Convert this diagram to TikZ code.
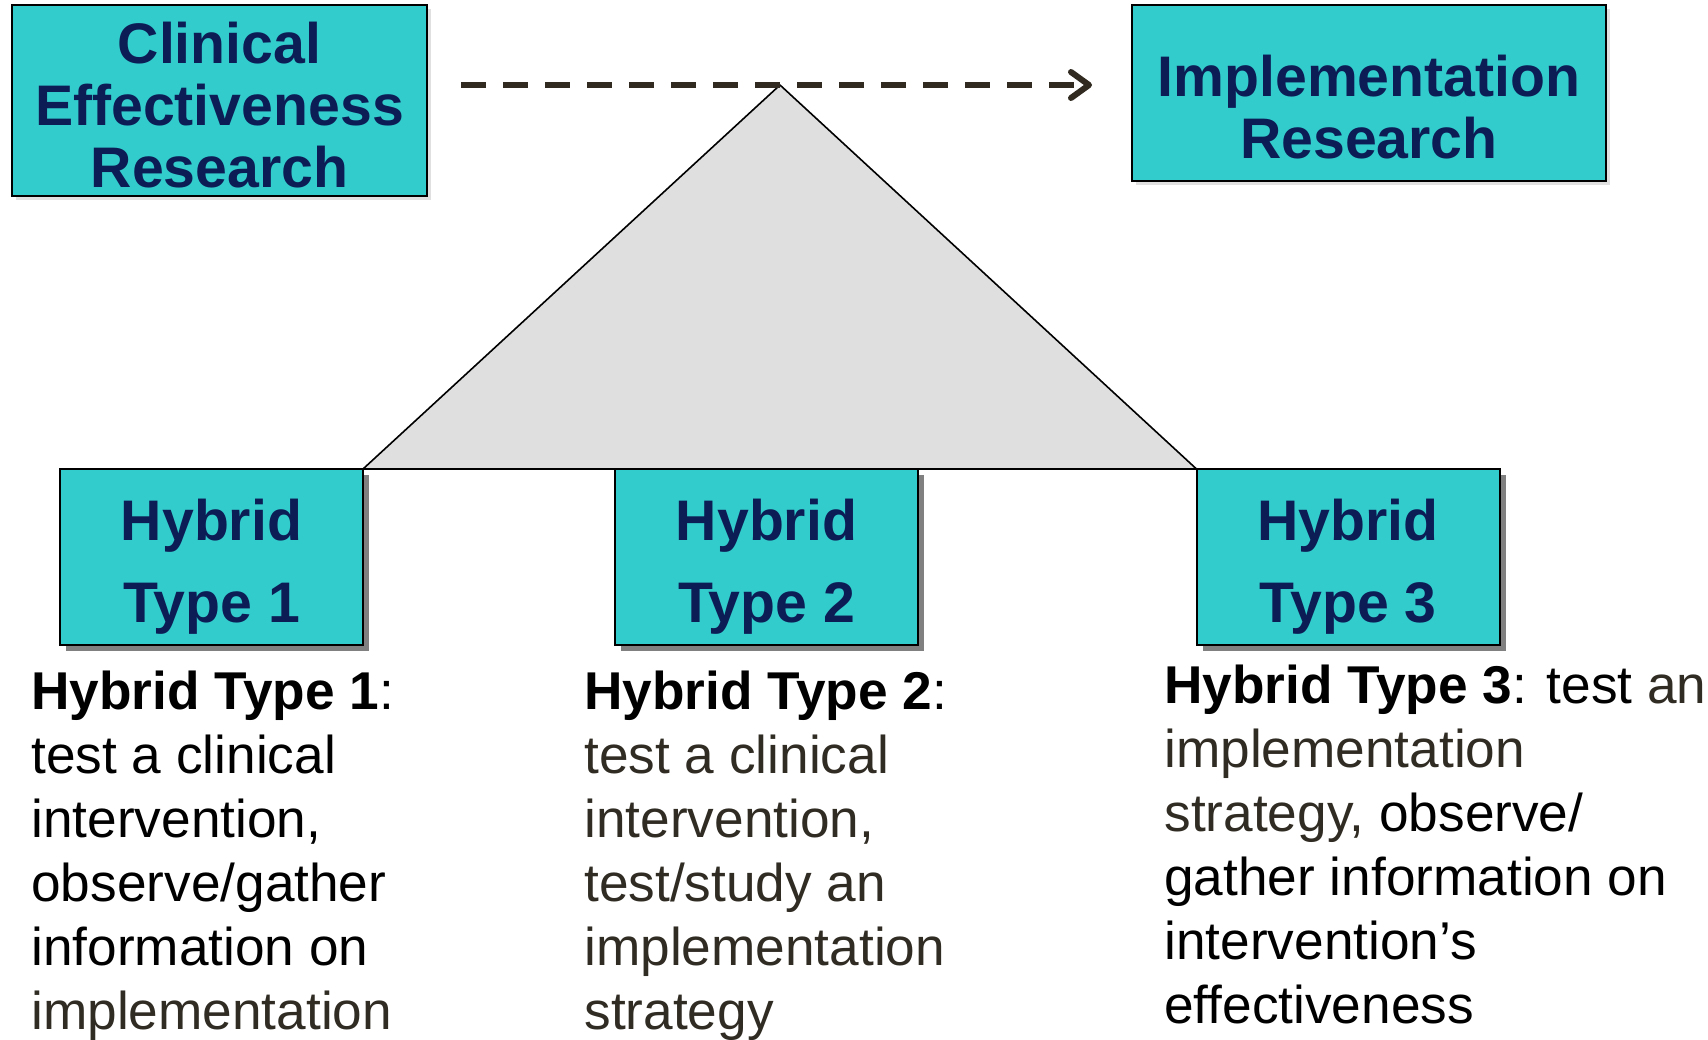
\documentclass[tikz,border=0pt]{standalone}
\usepackage{fontspec}
\setmainfont{Liberation Sans}
\usepackage{xcolor}
\usetikzlibrary{arrows.meta, shadows, positioning, calc}
\definecolor{boxfill}{HTML}{33CCCC}
\definecolor{boxtext}{HTML}{0C1D56}
\definecolor{arrowdark}{HTML}{302A20}
\definecolor{textgray}{HTML}{302C24}
\definecolor{trifill}{HTML}{DFDFDF}
\tikzset{
    boxbase/.style={
        rectangle,
        draw=black,
        line width=1pt,
        fill=boxfill,
        text=boxtext,
        align=center,
        inner sep=0pt,
        outer sep=0pt,
        text depth=0pt,
    },
    topbox/.style={
        boxbase,
        font=\fontsize{28.6}{31}\selectfont\bfseries,
        drop shadow={shadow xshift=2pt, shadow yshift=-2pt, fill=black!12, opacity=1},
    },
    hybox/.style={
        boxbase,
        font=\fontsize{28.6}{41}\selectfont\bfseries,
        minimum width=151.5pt,
        minimum height=88pt,
        text height=65pt,
        drop shadow={shadow xshift=3pt, shadow yshift=-3pt, fill=black!50, opacity=1},
    },
    desc/.style={
        anchor=north west,
        inner sep=0pt,
        align=left,
        font=\fontsize{26.6}{32}\selectfont,
    },
}

\begin{document}
\begin{tikzpicture}[x=0.5pt, y=-0.5pt]
    \useasboundingbox (0,0) rectangle (1708,1039);

    \node[topbox, minimum width=207.5pt, minimum height=95.5pt, text height=87pt] (cer) at (219.5,100.5) {Clinical\\Effectiveness\\Research};
    \node[topbox, minimum width=237pt, minimum height=88pt, text height=65pt] (ir) at (1369,93) {Implementation\\Research};

    \node[hybox] (h1) at (211.5,557) {Hybrid\\Type 1};
    \node[hybox] (h2) at (766.5,557) {Hybrid\\Type 2};
    \node[hybox] (h3) at (1348,557) {Hybrid\\Type 3};

    % the triangle between the hybrid types
    \coordinate (apex) at (780,85);
    \draw[line width=0.8pt, fill=trifill, line join=round] (h1.north east) -- (apex) -- (h3.north west) -- cycle;

    \coordinate (arrs) at (461,85);
    \coordinate (arre) at (1092,85);
    \draw[arrowdark, line width=3pt, dash pattern=on 12.5pt off 8.5pt, -{Straight Barb[length=9pt,width=13pt,round]}] (arrs) -- (arre);

    \node[desc] (d1) at (31,671) {\textbf{Hybrid Type 1}:\\test a clinical\\intervention,\\observe/gather\\information on\\\textcolor{textgray}{implementation}};
    \node[desc, text=textgray] (d2) at (584,671) {\textcolor{black}{\textbf{Hybrid Type 2}:}\\test a clinical\\intervention,\\test/study an\\implementation\\strategy};
    \node[desc] (d3) at (1164,665) {\textbf{Hybrid Type 3}: test \textcolor{textgray}{an}\\\textcolor{textgray}{implementation}\\\textcolor{textgray}{strategy,} observe/\\gather information on\\intervention’s\\effectiveness};
\end{tikzpicture}
\end{document}
